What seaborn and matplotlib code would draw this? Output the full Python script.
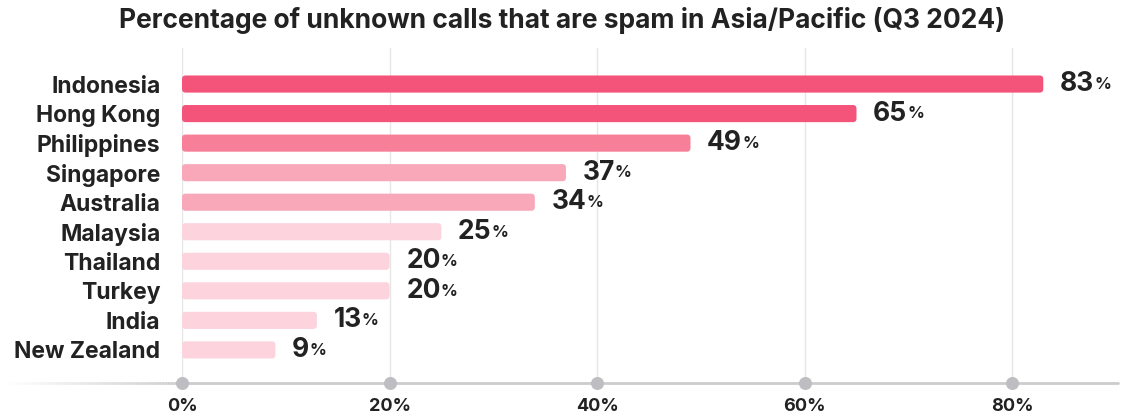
import matplotlib
matplotlib.use("Agg")
import matplotlib.pyplot as plt
import seaborn as sns
import numpy as np
import pandas as pd
from matplotlib.collections import LineCollection
from matplotlib.patches import FancyBboxPatch

countries = ["Indonesia", "Hong Kong", "Philippines", "Singapore", "Australia",
             "Malaysia", "Thailand", "Turkey", "India", "New Zealand"]
values = [83, 65, 49, 37, 34, 25, 20, 20, 13, 9]
bar_colors = ["#F5547A", "#F5547A", "#F77F98", "#F9A8BA", "#F9A8BA",
              "#FDD3DD", "#FDD3DD", "#FDD3DD", "#FDD3DD", "#FDD3DD"]
xticks = [0, 20, 40, 60, 80]
xtick_labels = ["0%", "20%", "40%", "60%", "80%"]
title = "Percentage of unknown calls that are spam in Asia/Pacific (Q3 2024)"

sns.set_theme(style="white")
FONT = ["Inter", "DejaVu Sans"]
plt.rcParams["font.family"] = FONT
TXT = "#222222"

W, H = 1125, 419
fig = plt.figure(figsize=(W / 100, H / 100), dpi=100)
x0, x1 = 182, 1118
y_top, y_bot = 48, 383
ax = fig.add_axes([x0 / W, 1 - y_bot / H, (x1 - x0) / W, (y_bot - y_top) / H])

df = pd.DataFrame({"country": countries, "value": values})
sns.barplot(data=df, y="country", x="value", hue="country", palette=bar_colors,
            legend=False, ax=ax, width=0.58, orient="h", saturation=1)

ax.set_xlim(0, 90.2)
ax.set_ylim(10.12, -1.22)

# rounded bars (px per x unit / px per y unit)
aspect = 10.375 / 29.56
for p in list(ax.patches):
    bx, by = p.get_x(), p.get_y()
    bw, bh = p.get_width(), p.get_height()
    fc = p.get_facecolor()
    p.remove()
    r = FancyBboxPatch((bx, by), bw, bh,
                       boxstyle="round,pad=0,rounding_size=0.35",
                       mutation_aspect=aspect, fc=fc, ec="none", zorder=3)
    ax.add_patch(r)

# grid
for t in xticks:
    ax.axvline(t, color="#E6E6E6", lw=1.0, zorder=0)

for s in ax.spines.values():
    s.set_visible(False)

ax.set_xlabel("")
ax.set_ylabel("")
ax.set_yticks(range(len(countries)))
ax.set_yticklabels(countries, fontsize=16.5, fontweight="bold", color=TXT)
ax.tick_params(axis="y", length=0, pad=15.5)
ax.set_xticks(xticks)
ax.set_xticklabels(xtick_labels, fontsize=13, fontweight="bold", color=TXT)
ax.tick_params(axis="x", length=0, pad=11)

# axis line with fade on the left
n = 60
xs_fade = np.linspace(-(x0 - 5) / (x1 - x0), 0, n + 1)
segs = [[(xs_fade[i], 0), (xs_fade[i + 1], 0)] for i in range(n)]
alphas = np.linspace(0.0, 1.0, n)
cols = [(0.8, 0.8, 0.8, a) for a in alphas]
lc = LineCollection(segs, colors=cols, linewidths=2, transform=ax.transAxes, clip_on=False, zorder=1)
ax.add_collection(lc)
ax.plot([0, 1], [0, 0], color="#CCCCCC", lw=2, transform=ax.transAxes, clip_on=False, zorder=1)
ax.scatter(xticks, [10.12] * len(xticks), s=70, color="#BDBDC2", zorder=4, clip_on=False)

# value labels
for i, v in enumerate(values):
    t = ax.annotate(f"{v}", xy=(v, i), xytext=(12, 0), textcoords="offset points",
                    ha="left", va="center", fontsize=19, fontweight="bold", color=TXT)
    ax.annotate("%", xy=(1, 0.2), xycoords=t, xytext=(0, 0), textcoords="offset points",
                ha="left", va="bottom", fontsize=12, fontweight="bold", color=TXT)

fig.text(0.5, 1 - 21 / H, title, ha="center", va="center", fontsize=19,
         fontweight="bold", color=TXT)

fig.savefig("out.png", dpi=100)
